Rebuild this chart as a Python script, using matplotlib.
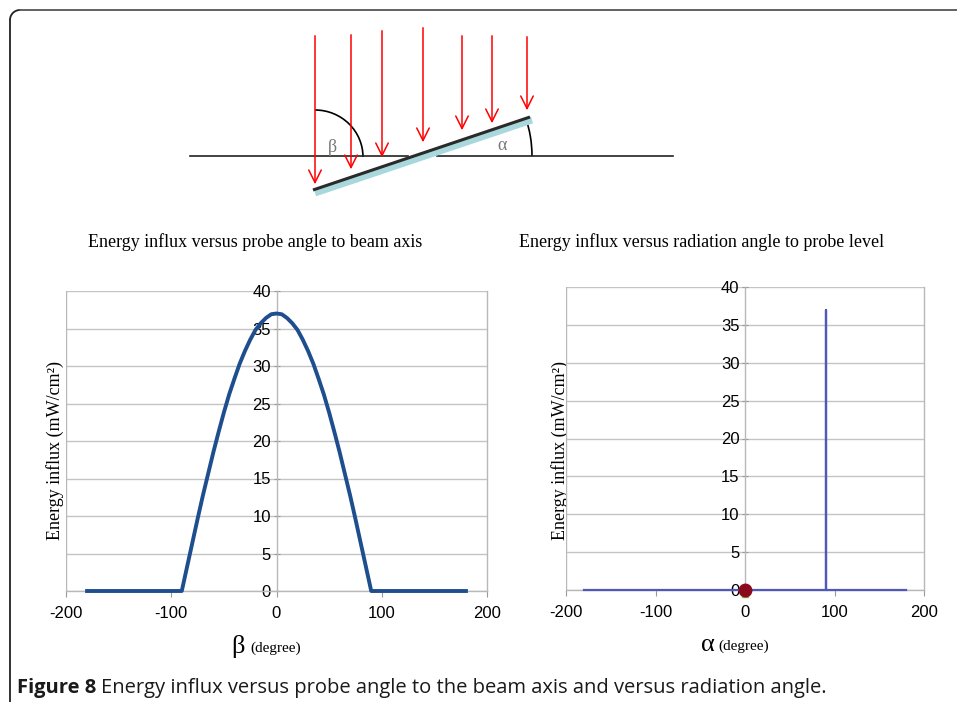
import numpy as np
import matplotlib
matplotlib.use("Agg")
import matplotlib.pyplot as plt
from matplotlib.patches import Arc

plt.rcParams["axes.unicode_minus"] = False

# data
beta = [-180, -90, -85, -80, -75, -70, -65, -60, -55, -50, -45, -40, -35, -30,
        -25, -20, -15, -10, -5, 0, 5, 10, 15, 20, 25, 30, 35, 40, 45, 50, 55,
        60, 65, 70, 75, 80, 85, 90, 180]
influx_beta = [0, 0, 3.2, 6.4, 9.6, 12.7, 15.6, 18.5, 21.2, 23.8, 26.2, 28.3,
               30.3, 32.0, 33.5, 34.8, 35.7, 36.4, 36.9, 37.0, 36.9, 36.4, 35.7,
               34.8, 33.5, 32.0, 30.3, 28.3, 26.2, 23.8, 21.2, 18.5, 15.6, 12.7,
               9.6, 6.4, 3.2, 0, 0]

alpha = [-180, 90, 90, 90, 180]
influx_alpha = [0, 0, 37.0, 0, 0]
dot_x, dot_y = [0], [0]

xticks = [-200, -100, 0, 100, 200]
yticks = [0, 5, 10, 15, 20, 25, 30, 35, 40]

# sketch: arrow x, top y, tip y (pixels)
arrow_x = [315, 351, 382, 423, 462, 492, 527]
arrow_top = [33, 32, 28, 25, 33, 33, 34]
arrow_tip = [187, 172, 160, 145, 133, 126, 113]

W, H = 957, 702
fig = plt.figure(figsize=(W / 100, H / 100), dpi=100)

# overlay in pixel coords
ov = fig.add_axes([0, 0, 1, 1])
ov.set_xlim(0, W)
ov.set_ylim(H, 0)
ov.axis("off")

# frame
ov.plot([10, 10], [702, 20], color="#222222", lw=1.3)
ov.add_patch(Arc((20, 20), 20, 20, theta1=180, theta2=270, color="#222222", lw=1.3))
ov.plot([20, W], [10, 10], color="#555555", lw=1.3)

# sketch
ov.plot([190, 408], [156, 156], color="#222222", lw=1.2)
ov.plot([437, 673], [156, 156], color="#222222", lw=1.2)
ov.plot([315, 532], [193, 120], color="#a8d8dc", lw=5, solid_capstyle="butt")
ov.plot([313, 530], [190, 117], color="#2a2a2a", lw=2.2, solid_capstyle="butt")
for x, t, b in zip(arrow_x, arrow_top, arrow_tip):
    ov.annotate("", xy=(x, b), xytext=(x, t),
                arrowprops=dict(arrowstyle="->,head_length=0.9,head_width=0.45",
                                color="red", lw=1.1))
ov.add_patch(Arc((315, 157), 96, 94, theta1=270, theta2=360, color="black", lw=1.2))
ov.add_patch(Arc((414, 156), 236, 236, theta1=341, theta2=360, color="black", lw=1.2))
ov.text(332, 147, "β", fontsize=13, color="#777777", ha="center", va="center",
        family="Liberation Serif")
ov.text(502, 145, "α", fontsize=13, color="#777777", ha="center", va="center",
        family="Liberation Serif")

ov.text(255, 242, "Energy influx versus probe angle to beam axis",
        fontsize=13, family="Liberation Serif", ha="center", va="center")
ov.text(702, 242, "Energy influx versus radiation angle to probe level",
        fontsize=13, family="Liberation Serif", ha="center", va="center")

cap = ov.text(17, 688, "Figure 8", fontsize=14.5, family="Open Sans",
              weight="bold", ha="left", va="center", color="#1a1a1a")
fig.canvas.draw()
bb = cap.get_window_extent()
ov.text(17 + bb.width + 5, 688,
        "Energy influx versus probe angle to the beam axis and versus radiation angle.",
        fontsize=14.5, family="Open Sans", ha="left", va="center", color="#1a1a1a")


def style(ax):
    ax.set_xlim(-200, 200)
    ax.set_ylim(0, 40)
    ax.set_xticks(xticks)
    ax.set_yticks(yticks)
    ax.spines["left"].set_position(("data", 0))
    for s in ax.spines.values():
        s.set_color("#b8b8b8")
        s.set_linewidth(1)
    ax.spines["top"].set_visible(False)
    ax.axvline(-200, color="#b8b8b8", lw=1)
    ax.yaxis.grid(True, color="#c4c4c4", lw=1)
    ax.set_axisbelow(True)
    ax.tick_params(axis="x", direction="out", length=4, color="#999999",
                   pad=7, labelsize=12)
    ax.tick_params(axis="y", direction="inout", length=4, color="#999999",
                   pad=2, labelsize=12)
    for lab in ax.get_xticklabels() + ax.get_yticklabels():
        lab.set_family("Liberation Sans")


# left chart
ax1 = fig.add_axes([66 / W, (H - 591) / H, (487 - 66) / W, (591 - 291) / H])
style(ax1)
ax1.plot(beta, influx_beta, color="#1f4e8f", lw=2.8, clip_on=False, zorder=3,
         solid_joinstyle="round")
ov.text(55, 450, "Energy influx (mW/cm²)", rotation=90, fontsize=13,
        family="Liberation Serif", ha="center", va="center")
ov.text(238, 647, "β", fontsize=19, family="Liberation Serif", ha="center", va="center")
ov.text(250, 648, "(degree)", fontsize=11, family="Liberation Serif",
        ha="left", va="center")

# right chart
ax2 = fig.add_axes([566 / W, (H - 590) / H, (924 - 566) / W, (590 - 287) / H])
style(ax2)
ax2.plot(alpha, influx_alpha, color="#5058b8", lw=1.6, clip_on=False, zorder=3)
ax2.plot(dot_x, [v - 0.5 for v in dot_y], "s", color="#7fbf3f", ms=5,
         clip_on=False, zorder=4)
ax2.plot(dot_x, dot_y, "o", color="#8b0a1e", ms=9, clip_on=False, zorder=5)
ov.text(560, 450, "Energy influx (mW/cm²)", rotation=90, fontsize=13,
        family="Liberation Serif", ha="center", va="center")
ov.text(708, 645, "α", fontsize=19, family="Liberation Serif", ha="center", va="center")
ov.text(718, 646, "(degree)", fontsize=11, family="Liberation Serif",
        ha="left", va="center")

fig.savefig("out.png", dpi=100)
